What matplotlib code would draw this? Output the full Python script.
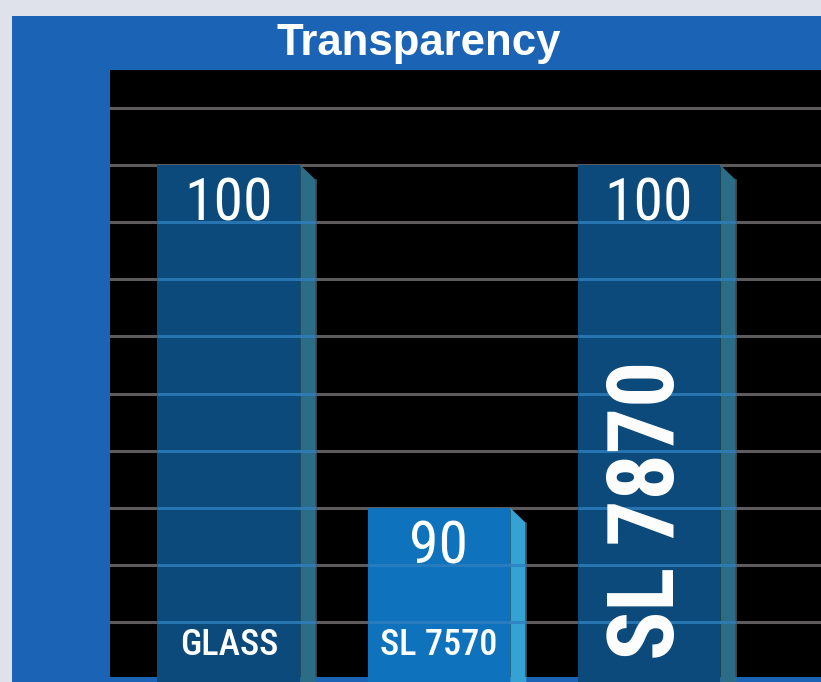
import matplotlib
matplotlib.use('Agg')
import matplotlib.pyplot as plt
from matplotlib.patches import Rectangle, Polygon

# chart data
categories = ['GLASS', 'SL 7570', 'SL 7870']
values = [100, 90, 100]
value_labels = ['100', '90', '100']
face_colors = ['#0b4a7a', '#0e72bc', '#0b4a7a']
side_colors = ['#2b6d86', '#35a2d4', '#2b6d86']
grid_levels = [86.667, 88.333, 90.0, 91.667, 93.333, 95.0, 96.667, 98.333, 100.0, 101.667]

narrow = ['Liberation Sans Narrow', 'Roboto Condensed', 'Archivo Narrow', 'DejaVu Sans']

W, H = 821, 682
fig = plt.figure(figsize=(W / 100, H / 100), dpi=100)
fig.patch.set_facecolor('#dfe2ea')

# blue frame
fig.patches.append(Rectangle((12 / W, 0), 1, 1 - 16 / H, transform=fig.transFigure,
                             facecolor='#1b64b5', edgecolor='none', zorder=-1))
fig.text(419 / W, 1 - 44 / H, 'Transparency', color='white', fontsize=31.5,
         fontweight='bold', family='Liberation Sans', ha='center', va='center')

ax = fig.add_axes([110 / W, 5 / H, (W - 110) / W, (677 - 70) / H])
ax.set_facecolor('black')
ax.set_ylim(85.07, 102.77)
ax.set_xlim(-0.566, 2.819)
for s in ax.spines.values():
    s.set_visible(False)
ax.set_xticks([])
ax.set_yticks([])

ax.hlines(grid_levels, -1, 3, color='#5d5b5b', linewidth=2.2, zorder=1)

width = 0.68
dx = 0.076
dy = 0.45
base = 84.9
for i, (cat, v) in enumerate(zip(categories, values)):
    left = i - width / 2
    right = i + width / 2
    ax.add_patch(Rectangle((left, base), width, v - base, facecolor=face_colors[i],
                           edgecolor='none', zorder=2, clip_on=False))
    ax.add_patch(Polygon([(right, v), (right + dx, v - dy), (right + dx, base), (right, base)],
                         closed=True, facecolor=side_colors[i], edgecolor='none',
                         zorder=2, clip_on=False))
    ax.plot([right + dx, right + dx], [base, v - dy], color='#4a4a4a', lw=1.2, zorder=2)
    # grid lines seen through the bar
    lv = [g for g in grid_levels if g < v - 0.05]
    ax.hlines(lv, left, right + dx, color='#2f7fbf', linewidth=2.2, alpha=0.8, zorder=3)
    ax.text(i, v - 1.15, value_labels[i], color='white', fontsize=43, family=narrow,
            ha='center', va='center', zorder=4)

ax.text(0, 86.0, categories[0], color='white', fontsize=26, family=narrow,
        fontweight='medium', ha='center', va='center', zorder=4)
ax.text(1, 86.0, categories[1], color='white', fontsize=26, family=narrow,
        fontweight='medium', ha='center', va='center', zorder=4)
ax.text(2, 85.57, categories[2], color='white', fontsize=66, family=narrow,
        fontweight='bold', rotation=90, ha='center', va='bottom', zorder=4)

fig.savefig('out.png', dpi=100, facecolor=fig.get_facecolor())
